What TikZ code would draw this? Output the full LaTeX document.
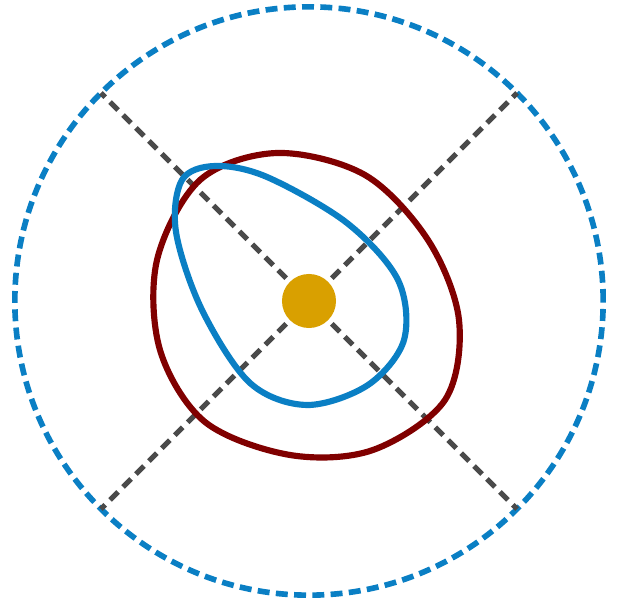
\documentclass[tikz,border=0pt]{standalone}
\usepackage{tikz}
\usetikzlibrary{positioning, calc}
\definecolor{orbblue}{HTML}{0A7FC4}
\definecolor{orbred}{HTML}{800000}
\definecolor{orbgold}{HTML}{D9A000}
\definecolor{orbgray}{HTML}{4A4A4A}

\begin{document}
\begin{tikzpicture}[
  x=0.01cm, y=-0.01cm,
  boundary/.style={orbblue, line width=1.6pt, dash pattern=on 3.4pt off 1.8pt},
  axisline/.style={orbgray, line width=1.5pt, dash pattern=on 3.2pt off 2pt},
  orbit/.style={line width=1.75pt, smooth cycle, tension=0.55},
  star/.style={circle, fill=orbgold, minimum size=0.54cm, inner sep=0pt, outer sep=1.5pt},
]
\useasboundingbox (0,0) rectangle (618,601);
\node[star] (sun) at (309,301) {};
\draw[boundary] (sun.center) circle[radius=2.94cm];
\coordinate (nw) at ($(sun.center)+(135:2.94cm)$);
\coordinate (ne) at ($(sun.center)+(45:2.94cm)$);
\coordinate (sw) at ($(sun.center)+(225:2.94cm)$);
\coordinate (se) at ($(sun.center)+(-45:2.94cm)$);
\foreach \c in {nw,ne,sw,se}
  \draw[axisline] (sun) -- (\c);
\draw[orbit, orbred] plot coordinates {
  (277,153) (365,175) (428,240) (459,320) (445,400) (373,450) (290,455)
  (205,422) (160,350) (157,260) (200,180)};
\draw[orbit, orbblue] plot coordinates {
  (215,166) (267,177) (347,223) (398,280) (404,340) (368,385) (307,405)
  (250,383) (202,310) (176,232) (182,180)};
\end{tikzpicture}
\end{document}
